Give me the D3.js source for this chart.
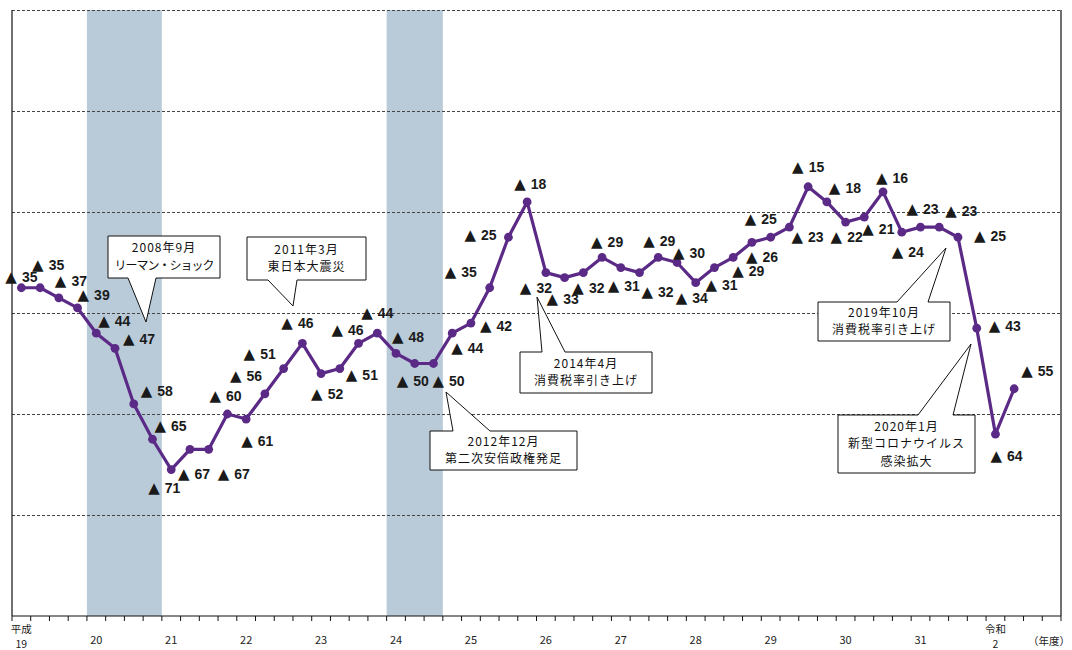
<!DOCTYPE html>
<html>
<head>
<meta charset="utf-8">
<style>
    body { margin: 0; background: #fff; }
    svg { display: block; }
    .grid line { stroke: #444; stroke-dasharray: 3,2; stroke-width: 1; }
    .frame line { stroke: #111; stroke-width: 1.2; }
    .ticks line { stroke: #111; stroke-width: 1; }
    .di-line { fill: none; stroke: #5b2a86; stroke-width: 3.2; stroke-linejoin: round; }
    .di-dot { fill: #5b2a86; }
    .lbl { font-family: "Liberation Sans", Arial, sans-serif; font-weight: bold; font-size: 14px; fill: #1a1a1a; }
    .lbl .tri { font-family: "DejaVu Sans", sans-serif; font-weight: normal; font-size: 15px; }
    .callout path { fill: #fff; stroke: #111; stroke-width: 1; }
    .callout text { font-family: "Noto Sans CJK JP", sans-serif; font-size: 12px; fill: #111; text-anchor: middle; letter-spacing: 1px; }
    .xlab { font-family: "Noto Sans CJK JP", sans-serif; font-size: 11px; fill: #222; text-anchor: middle; }
    .xlab.two { font-size: 10.5px; }
</style>
</head>
<body>
<div id="chart"></div>
<script src="https://cdn.jsdelivr.net/npm/d3@7"></script>
<script>
    // fiscal years (each has 4 quarters, label sits on the first one)
    let yearLabels = ["平成\n19", "20", "21", "22", "23", "24", "25", "26", "27", "28", "29", "30", "31", "令和\n2"];

    // DI per quarter from 2007 Apr-Jun (all negative, shown as ▲)
    let diValues = [-35, -35, -37, -39, -44, -47, -58, -65, -71, -67, -67, -60, -61, -56,
                    -51, -46, -52, -51, -46, -44, -48, -50, -50, -44, -42, -35, -25, -18,
                    -32, -33, -32, -29, -31, -32, -29, -30, -34, -31, -29, -26, -25, -23,
                    -15, -18, -22, -21, -16, -24, -23, -23, -25, -43, -64, -55];

    // recession shading, quarter index [start, end)
    let recessions = [[4, 8], [20, 23]];

    let eventTexts = [
        ["2008年9月", "リーマン・ショック"],
        ["2011年3月", "東日本大震災"],
        ["2012年12月", "第二次安倍政権発足"],
        ["2014年4月", "消費税率引き上げ"],
        ["2019年10月", "消費税率引き上げ"],
        ["2020年1月", "新型コロナウイルス", "感染拡大"]
    ];

    // ---- layout only below ----
    // label offset of the ▲ from its point [dx, dy]
    let labelOffsets = [
        [-10,-11],[-2,-23],[2,-17],[6,-13],[8,-12],[14,-9],[13,-13],[8,-13],[-17,18],[-6,25],
        [15,25],[-12,-18],[1,22],[-29,-18],[-34,-15],[-15,-20],[-4,20],[12,6],[-21,-13],[-10,-20],
        [2,-16],[-12,17],[5,17],[5,15],[15,3],[-39,-16],[-38,-2],[-7,-18],[-20,15],[-12,21],
        [-5,15],[-5,-15],[-7,18],[8,19],[-9,-16],[2,-10],[-14,15],[-3,17],[5,14],[0,15],
        [-20,-18],[8,10],[-10,-20],[8,-14],[-9,15],[4,12],[-1,-14],[-4,20],[-8,-18],[12,-16],
        [22,-1],[18,-2],[1,22],[13,-18]
    ];

    // callout boxes: box corners, pointer side, pointer base, tip
    let calloutLayout = [
        { x0: 108, y0: 236, x1: 220, y1: 278, side: "bottom", b0: 128, b1: 156, tx: 146, ty: 322, ls: -1 },
        { x0: 247, y0: 237, x1: 366, y1: 280, side: "bottom", b0: 268, b1: 297, tx: 293, ty: 306, ls: 1 },
        { x0: 430, y0: 431, x1: 577, y1: 470, side: "top", b0: 453, b1: 490, tx: 446, ty: 392, ls: 1 },
        { x0: 520, y0: 352, x1: 652, y1: 393, side: "top", b0: 542, b1: 565, tx: 537, ty: 297, ls: 1 },
        { x0: 818, y0: 302, x1: 950, y1: 341, side: "top", b0: 897, b1: 928, tx: 946, ty: 248, ls: 1 },
        { x0: 838, y0: 415, x1: 975, y1: 473, side: "top", b0: 918, b1: 953, tx: 971, ty: 344, ls: 1 }
    ];

    let w = 1072, h = 650;
    let pLeft = 12, pRight = 1061, pTop = 10, pBottom = 616;
    let nQuarters = yearLabels.length * 4;

    let svg = d3.select("#chart").append("svg")
        .attr("width", w)
        .attr("height", h);

    let x = d3.scaleBand().domain(d3.range(nQuarters)).range([pLeft, pRight]);
    let q = d3.scaleLinear().domain([0, nQuarters]).range([pLeft, pRight]);
    let y = d3.scaleLinear().domain([-100, 20]).range([pBottom, pTop]);
    let bw = x.bandwidth();

    // shading
    svg.append("g").selectAll("rect")
        .data(recessions)
        .enter().append("rect")
            .attr("x", function(d) { return q(d[0]); })
            .attr("width", function(d) { return q(d[1]) - q(d[0]); })
            .attr("y", pTop)
            .attr("height", pBottom - pTop)
            .attr("fill", "#b9cad9");

    // dashed grid
    svg.append("g").attr("class", "grid")
        .selectAll("line")
        .data([-80, -60, -40, -20, 0, 20])
        .enter().append("line")
            .attr("x1", pLeft).attr("x2", pRight)
            .attr("y1", function(d) { return y(d) + 0.5; })
            .attr("y2", function(d) { return y(d) + 0.5; });

    let frame = svg.append("g").attr("class", "frame");
    frame.append("line").attr("x1", pLeft).attr("x2", pLeft).attr("y1", pTop).attr("y2", pBottom);
    frame.append("line").attr("x1", pRight).attr("x2", pRight).attr("y1", pTop).attr("y2", pBottom);
    frame.append("line").attr("x1", pLeft).attr("x2", pRight).attr("y1", pBottom).attr("y2", pBottom);

    // quarter ticks
    svg.append("g").attr("class", "ticks")
        .selectAll("line")
        .data(d3.range(nQuarters + 1))
        .enter().append("line")
            .attr("x1", function(d) { return q(d); })
            .attr("x2", function(d) { return q(d); })
            .attr("y1", pBottom)
            .attr("y2", pBottom + 5);

    // year labels (two-line ones drawn as two texts)
    yearLabels.forEach(function(d, i) {
        let parts = d.split("\n");
        let cx = x(i * 4) + bw / 2;
        if (parts.length == 1) {
            svg.append("text").attr("class", "xlab").attr("x", cx).attr("y", 644).text(parts[0]);
        } else {
            svg.append("text").attr("class", "xlab two").attr("x", cx).attr("y", 633).text(parts[0]);
            svg.append("text").attr("class", "xlab two").attr("x", cx).attr("y", 648).text(parts[1]);
        }
    });
    svg.append("text").attr("class", "xlab two")
        .attr("x", 1070).attr("y", 645)
        .style("text-anchor", "end")
        .text("（年度）");

    // DI line and dots
    let line = d3.line()
        .x(function(d, i) { return x(i) + bw / 2; })
        .y(function(d) { return y(d); });

    svg.append("path")
        .datum(diValues)
        .attr("class", "di-line")
        .attr("d", line);

    svg.append("g").selectAll("circle")
        .data(diValues)
        .enter().append("circle")
            .attr("class", "di-dot")
            .attr("cx", function(d, i) { return x(i) + bw / 2; })
            .attr("cy", function(d) { return y(d); })
            .attr("r", 4.4);

    // ▲ labels
    let lbl = svg.append("g").selectAll("text")
        .data(diValues)
        .enter().append("text")
            .attr("class", "lbl")
            .attr("x", function(d, i) { return x(i) + bw / 2 + labelOffsets[i][0] - 6; })
            .attr("y", function(d, i) { return y(d) + labelOffsets[i][1] + 5; });
    lbl.append("tspan").attr("class", "tri").text("▲");
    lbl.append("tspan").attr("dx", 5).text(function(d) { return Math.abs(d); });

    // callouts
    function calloutPath(c) {
        if (c.side == "bottom") {
            return "M" + c.x0 + "," + c.y0 + "H" + c.x1 + "V" + c.y1 + "H" + c.b1 +
                   "L" + c.tx + "," + c.ty + "L" + c.b0 + "," + c.y1 + "H" + c.x0 + "Z";
        }
        return "M" + c.x0 + "," + c.y0 + "H" + c.b0 + "L" + c.tx + "," + c.ty +
               "L" + c.b1 + "," + c.y0 + "H" + c.x1 + "V" + c.y1 + "H" + c.x0 + "Z";
    }

    let callout = svg.append("g").selectAll("g")
        .data(calloutLayout)
        .enter().append("g")
            .attr("class", "callout");
    callout.append("path")
        .attr("d", function(d) { return calloutPath(d); });
    callout.each(function(c, i) {
        let lines = eventTexts[i];
        let cy = (c.y0 + c.y1) / 2;
        let cx = (c.x0 + c.x1) / 2;
        d3.select(this).selectAll("text")
            .data(lines)
            .enter().append("text")
                .attr("x", cx)
                .attr("y", function(d, k) { return cy + (k - (lines.length - 1) / 2) * 17.5; })
                .attr("dy", "0.35em")
                .style("letter-spacing", function(d, k) { return (k == 1 ? c.ls : 1) + "px"; })
                .text(function(d) { return d; });
    });
</script>
</body>
</html>
